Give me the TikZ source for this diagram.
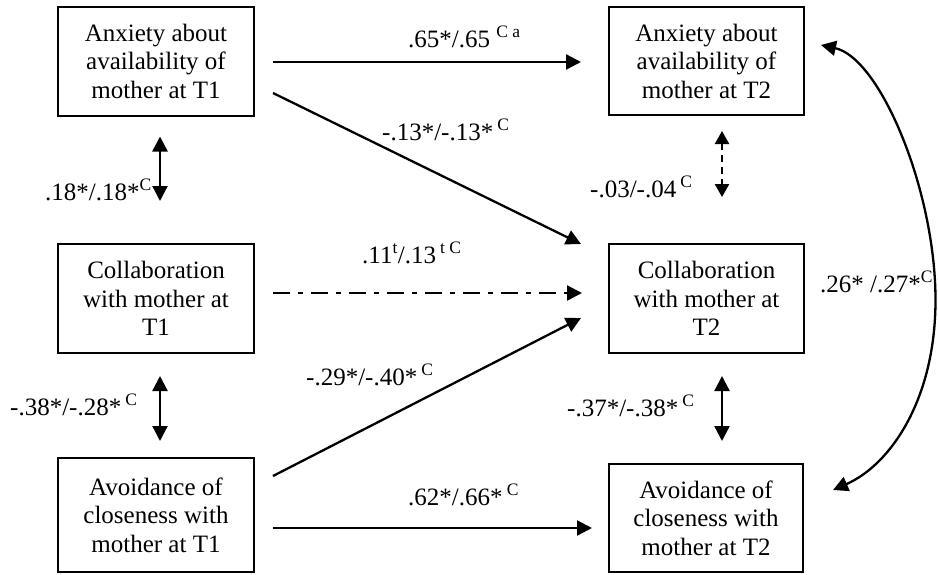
\documentclass[tikz,border=0pt]{standalone}
\usepackage{fontspec}
\setmainfont{Liberation Serif}
\usetikzlibrary{arrows.meta}

\begin{document}
\begin{tikzpicture}[
  x=1pt, y=-1pt,
  box/.style={draw, line width=2pt, minimum width=196pt, minimum height=109pt, align=center, inner sep=0pt, font=\fontsize{25}{28.5}\selectfont},
  arr/.style={-{Triangle[length=15pt,width=15pt]}, line width=2.3pt},
  darr/.style={{Triangle[length=15pt,width=15pt]}-{Triangle[length=15pt,width=15pt]}, line width=2.3pt},
  coef/.style={anchor=base west, inner sep=0pt, font=\fontsize{25}{28.5}\selectfont},
]
\useasboundingbox (0,0) rectangle (938,574);

% --- Time 1 ---
\node[box] (anx1) at (156, 61) {Anxiety about\\availability of\\mother at T1};
\node[box] (col1) at (156, 298.5) {Collaboration\\with mother at\\T1};
\node[box, minimum height=114pt] (avo1) at (156, 515) {Avoidance of\\closeness with\\mother at T1};

% --- Time 2 ---
\node[box, minimum width=195pt, minimum height=108pt] (anx2) at (706.5, 61) {Anxiety about\\availability of\\mother at T2};
\node[box, minimum width=195pt] (col2) at (706.5, 298.5) {Collaboration\\with mother at\\T2};
\node[box, minimum width=194pt, minimum height=108pt] (avo2) at (706, 518) {Avoidance of\\closeness with\\mother at T2};

% --- Paths T1 -> T2 ---
\draw[arr] ([xshift=18pt, yshift=-1pt]anx1.east) -- ([xshift=-27pt, yshift=-1pt]anx2.west);
\node[coef] (p65) at (408, 47) {.65*/.65 \textsuperscript{C a}};

\draw[arr] ([xshift=18pt, yshift=-32pt]anx1.east) -- ([xshift=-27pt, yshift=54.5pt]col2.west);
\node[coef] (p13) at (382, 140) {-.13*/-.13*\,\textsuperscript{C}};

\draw[arr, dash pattern={on 17pt off 8pt on 5pt off 8pt}] ([xshift=18pt, yshift=5.5pt]col1.east) -- ([xshift=-26pt, yshift=5.5pt]col2.west);
\node[coef] (p11) at (362, 263) {.11\textsuperscript{t}/.13\,\textsuperscript{t C}};

\draw[arr] ([xshift=18pt, yshift=39pt]avo1.east) -- ([xshift=-27pt, yshift=-19.5pt]col2.west);
\node[coef] (p29) at (306, 385) {-.29*/-.40*\,\textsuperscript{C}};

\draw[arr] ([xshift=18pt, yshift=-13pt]avo1.east) -- ([xshift=-16pt, yshift=-10pt]avo2.west);
\node[coef] (p62) at (408, 505) {.62*/.66*\,\textsuperscript{C}};

% --- Correlations T1 ---
\draw[darr] ([xshift=4pt, yshift=-20pt]anx1.south) -- ([xshift=4pt, yshift=42pt]col1.north);
\node[coef] (r18) at (45, 200) {.18*/.18*\textsuperscript{C}};

\draw[darr] ([xshift=4pt, yshift=-22pt]col1.south) -- ([xshift=4pt, yshift=16pt]avo1.north);
\node[coef] (r38) at (10, 415) {-.38*/-.28*\,\textsuperscript{C}};

% --- Correlations T2 ---
\draw[darr, dash pattern={on 7pt off 5pt}, {Triangle[length=13pt,width=14pt]}-{Triangle[length=13pt,width=14pt]}] ([xshift=15.5pt, yshift=-15pt]anx2.south) -- ([xshift=15.5pt, yshift=46pt]col2.north);
\node[coef] (r03) at (590, 197) {-.03/-.04\,\textsuperscript{C}};

\draw[darr] ([xshift=15.5pt, yshift=-22pt]col2.south) -- ([xshift=16pt, yshift=22pt]avo2.north);
\node[coef] (r37) at (567, 416) {-.37*/-.38*\,\textsuperscript{C}};

\coordinate (rim) at (935.5, 300);
\draw[darr] ([xshift=16pt, yshift=16pt]anx2.east) .. controls (880, 58) and (935.5, 190) .. (rim)
  .. controls (935.5, 400) and (890, 465) .. ([xshift=29pt, yshift=28pt]avo2.east);
\node[coef] (r26) at (820, 292) {.26* /.27*\textsuperscript{C}};

\end{tikzpicture}
\end{document}
